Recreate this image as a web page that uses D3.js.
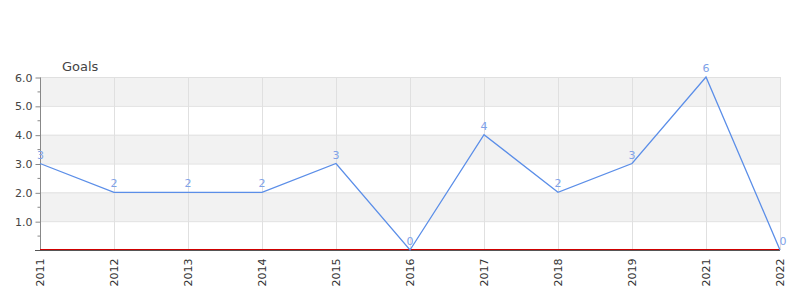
<!DOCTYPE html>
<html>
<head>
<meta charset="utf-8">
<script src="https://cdn.jsdelivr.net/npm/d3@7"></script>
<style>
  body { margin: 0; background: #fff; }
  text { font-family: "DejaVu Sans", sans-serif; }
</style>
</head>
<body>
<div id="chart"></div>
<script>
// data
var years = ["2011", "2012", "2013", "2014", "2015", "2016", "2017", "2018", "2019", "2021", "2022"];
var goals = [3, 2, 2, 2, 3, 0, 4, 2, 3, 6, 0];
var yTicks = [1, 2, 3, 4, 5, 6];

var width = 800, height = 300;
var margin = {top: 77, right: 20, bottom: 50, left: 40};

var svg = d3.select("#chart").append("svg")
    .attr("width", width)
    .attr("height", height);

var x = d3.scalePoint()
    .domain(years)
    .range([margin.left, width - margin.right]);

var y = d3.scaleLinear()
    .domain([0, 6])
    .range([height - margin.bottom, margin.top]);

// alternating bands
var bands = d3.range(0, 6);
svg.append("g").selectAll("rect")
    .data(bands)
    .enter().append("rect")
    .attr("x", margin.left)
    .attr("width", width - margin.right - margin.left)
    .attr("y", function(d) { return y(d + 1); })
    .attr("height", function(d) { return y(d) - y(d + 1); })
    .attr("fill", function(d) { return d % 2 === 1 ? "#f2f2f2" : "#fff"; });

// grid
svg.append("g").selectAll("line")
    .data(yTicks)
    .enter().append("line")
    .attr("x1", margin.left).attr("x2", width - margin.right)
    .attr("y1", function(d) { return y(d) + 0.5; })
    .attr("y2", function(d) { return y(d) + 0.5; })
    .attr("stroke", "#e0e0e0");

svg.append("g").selectAll("line")
    .data(years)
    .enter().append("line")
    .attr("x1", function(d) { return Math.round(x(d)) + 0.5; })
    .attr("x2", function(d) { return Math.round(x(d)) + 0.5; })
    .attr("y1", margin.top).attr("y2", y(0))
    .attr("stroke", "#e0e0e0");

// y axis
var yAxis = d3.axisLeft(y)
    .tickValues(yTicks)
    .tickSize(5)
    .tickFormat(d3.format(".1f"));

var gy = svg.append("g")
    .attr("transform", "translate(" + (margin.left + 0.5) + ",0.5)")
    .call(yAxis);
gy.select(".domain").attr("stroke", "#888").attr("d", "M0," + margin.top + "V" + y(0));
gy.selectAll(".tick line").attr("stroke", "#888");
gy.selectAll(".tick text")
    .attr("fill", "#444")
    .attr("font-size", 11)
    .attr("font-family", "DejaVu Sans, sans-serif");

// minor ticks
gy.append("g").selectAll("line")
    .data(d3.range(0.5, 6, 1))
    .enter().append("line")
    .attr("x1", -3).attr("x2", 0)
    .attr("y1", function(d) { return y(d); })
    .attr("y2", function(d) { return y(d); })
    .attr("stroke", "#888");

// x axis
var gx = svg.append("g")
    .attr("transform", "translate(0," + (y(0) + 0.5) + ")")
    .call(d3.axisBottom(x).tickSize(0).tickPadding(0));
gx.select(".domain").attr("stroke", "#555").attr("d", "M" + (margin.left - 5) + ",0H" + (width - margin.right));
gx.selectAll(".tick text")
    .attr("fill", "#333")
    .attr("font-size", 11)
    .attr("font-family", "DejaVu Sans, sans-serif")
    .attr("text-anchor", "end")
    .attr("dy", "0.35em")
    .attr("transform", "translate(0,8) rotate(-90)")
    .attr("x", 0).attr("y", 0);

// zero reference line
svg.append("line")
    .attr("x1", margin.left).attr("x2", width - margin.right)
    .attr("y1", y(0) - 0.5).attr("y2", y(0) - 0.5)
    .attr("stroke", "#d00000")
    .attr("stroke-width", 1);

// series line
var line = d3.line()
    .x(function(d, i) { return x(years[i]); })
    .y(function(d) { return y(d); });

svg.append("path")
    .datum(goals)
    .attr("d", line)
    .attr("fill", "none")
    .attr("stroke", "#5b8ee8")
    .attr("stroke-width", 1.3);

// value labels
svg.append("g").selectAll("text")
    .data(goals)
    .enter().append("text")
    .attr("x", function(d, i) { return x(years[i]); })
    .attr("y", function(d) { return y(d) - 5; })
    .attr("text-anchor", function(d, i) { return i === 0 ? "start" : "middle"; })
    .attr("dx", function(d, i) { return i === 0 ? -3 : (i === years.length - 1 ? 3 : 0); })
    .attr("fill", "#7fa2e8")
    .attr("font-size", 11)
    .text(function(d) { return d; });

// axis title
svg.append("text")
    .attr("x", 62)
    .attr("y", 71)
    .attr("fill", "#444")
    .attr("font-size", 13)
    .text("Goals");
</script>
</body>
</html>
